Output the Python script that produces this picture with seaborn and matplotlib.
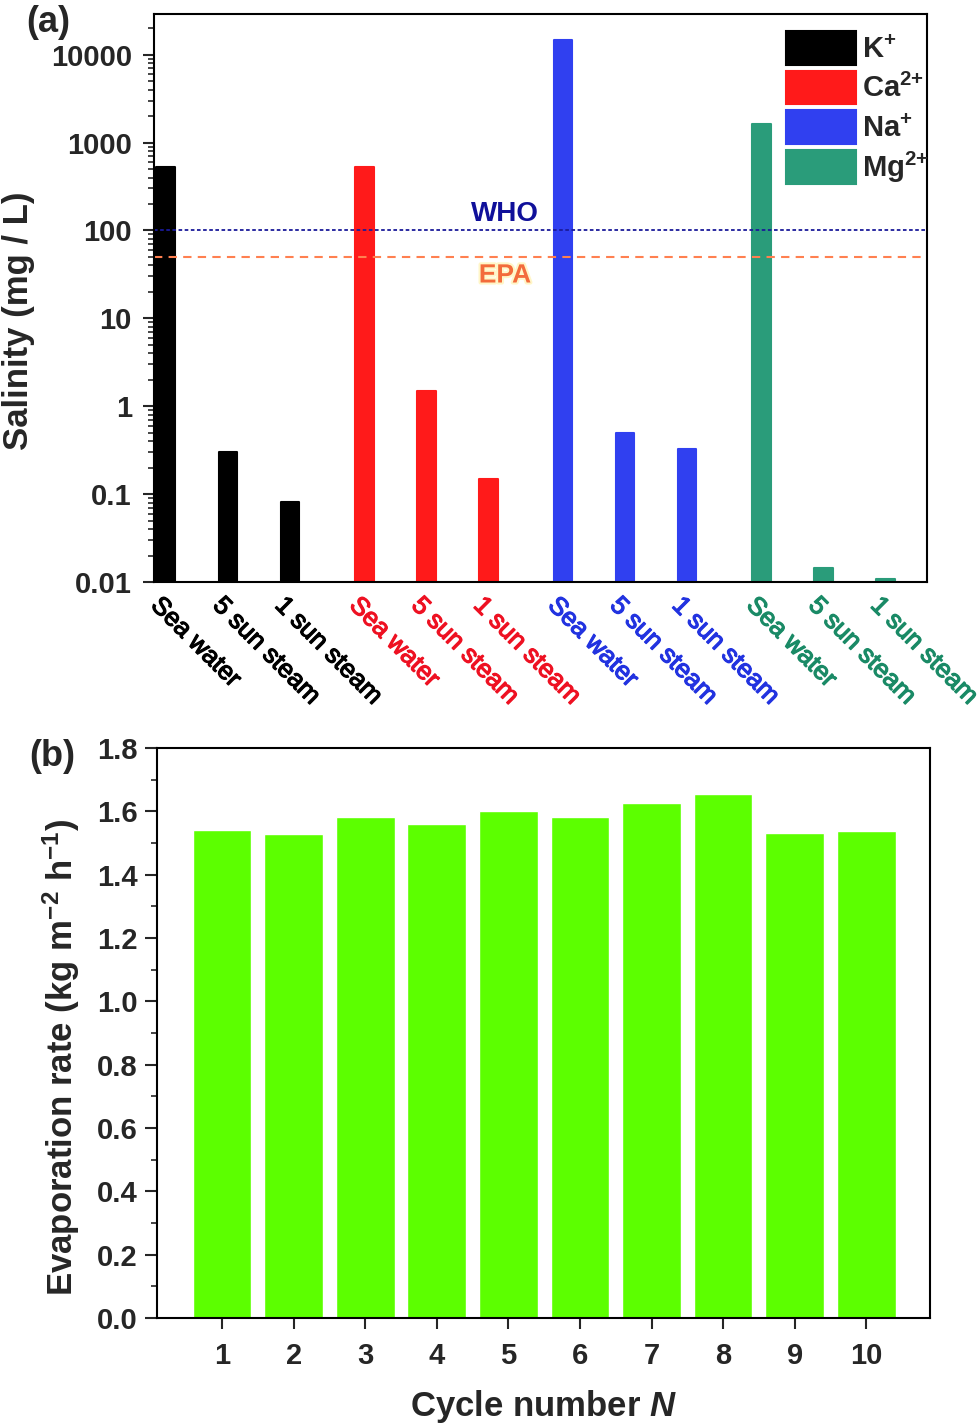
import numpy as np
import pandas as pd
import matplotlib
matplotlib.use("Agg")
import matplotlib.pyplot as plt
import matplotlib.ticker as mticker
import matplotlib.patheffects as pe
from matplotlib.patches import Patch
from matplotlib.transforms import ScaledTranslation, blended_transform_factory
import seaborn as sns

# %%
# data
ions = ["K$^{\\mathbf{+}}$", "Ca$^{\\mathbf{2{+}}}$", "Na$^{\\mathbf{+}}$", "Mg$^{\\mathbf{2{+}}}$"]
conditions = ["Sea water", "5 sun steam", "1 sun steam"]
k_vals = [530, 0.30, 0.081]
ca_vals = [520, 1.48, 0.15]
na_vals = [14800, 0.50, 0.33]
mg_vals = [1640, 0.0144, 0.0108]
who_limit = 100
epa_limit = 50

ion_colors = ["#000000", "#ff1a1a", "#3040f0", "#2a9c7a"]
label_colors = ["#000000", "#ee1122", "#2233e0", "#1a8a66"]

cycles = list(range(1, 11))
evap_rate = [1.542, 1.529, 1.583, 1.561, 1.602, 1.583, 1.625, 1.656, 1.533, 1.538]

# %%
sns.set_theme(style="ticks")
plt.rcParams["font.family"] = ["Liberation Sans", "DejaVu Sans"]
plt.rcParams["font.weight"] = "bold"
plt.rcParams["axes.labelweight"] = "bold"
plt.rcParams["mathtext.fontset"] = "custom"
plt.rcParams["mathtext.rm"] = "Liberation Sans:bold"
plt.rcParams["mathtext.bf"] = "Liberation Sans:bold"
plt.rcParams["mathtext.it"] = "Liberation Sans:italic:bold"
plt.rcParams["mathtext.default"] = "bf"
plt.rcParams["axes.linewidth"] = 1.5
plt.rcParams["axes.edgecolor"] = "black"

# build long table; group gap is layout only
group_gap = 0.2
rows = []
for g, (ion, vals) in enumerate(zip(ions, [k_vals, ca_vals, na_vals, mg_vals])):
    for c, (cond, v) in enumerate(zip(conditions, vals)):
        rows.append({"ion": ion, "cond": cond, "value": v,
                     "pos": g * (len(conditions) + group_gap) + c})
df = pd.DataFrame(rows)

fig = plt.figure(figsize=(9.8, 14.28), dpi=100)
ax1 = fig.add_axes([154 / 980, 1 - 582 / 1428, 773 / 980, 568 / 1428])
ax2 = fig.add_axes([157 / 980, 1 - 1318 / 1428, 773 / 980, 570 / 1428])

# %%
# (a) salinity
sns.barplot(data=df, x="pos", y="value", hue="ion", palette=ion_colors,
            native_scale=True, dodge=False, width=0.3,
            legend=False, ax=ax1, saturation=1)
ax1.set_yscale("log")
for bar in ax1.patches:
    bar.set_edgecolor(bar.get_facecolor())
    bar.set_linewidth(1.5)
    bar.set_joinstyle("round")
ax1.set_ylim(0.01, 29000)
ax1.set_xlim(-0.19, 12.27)
ax1.yaxis.set_major_locator(mticker.LogLocator(base=10, numticks=100))
ax1.yaxis.set_minor_locator(mticker.LogLocator(base=10, subs=np.arange(2, 10), numticks=100))
ax1.yaxis.set_major_formatter(mticker.FuncFormatter(lambda v, p: f"{v:g}"))
ax1.yaxis.set_minor_formatter(mticker.NullFormatter())
ax1.tick_params(axis="y", which="major", length=8, width=1.5, pad=8, labelsize=21)
ax1.tick_params(axis="y", which="minor", length=4.5, width=1.2)
ax1.tick_params(axis="x", length=0, pad=14)

ax1.set_xticks(df["pos"])
ax1.set_xticklabels(df["cond"], rotation=-45, ha="left", va="center",
                    rotation_mode="anchor", fontsize=18.5, fontweight="normal")
offset = ScaledTranslation(-11 / 100, 0, fig.dpi_scale_trans)
for lbl, g in zip(ax1.get_xticklabels(), np.repeat(np.arange(len(ions)), len(conditions))):
    lbl.set_color(label_colors[g])
    lbl.set_transform(lbl.get_transform() + offset)
    lbl.set_path_effects([pe.withStroke(linewidth=0.9, foreground=label_colors[g])])

ax1.axhline(who_limit, color="#1a1a9a", lw=1.3, ls=(0, (2, 1.4)))
ax1.axhline(epa_limit, color="#ff8050", lw=1.5, ls=(0, (4, 3)))
tr = blended_transform_factory(ax1.transAxes, ax1.transData)
ax1.text(0.454, 155, "WHO", transform=tr, ha="center", va="center",
         color="#10109a", fontsize=20, fontweight="bold")
ax1.text(0.454, 30.7, "EPA", transform=tr, ha="center", va="center",
         color="#f36b3b", fontsize=19, fontweight="bold",
         path_effects=[pe.withStroke(linewidth=3, foreground="#fff6c8")])

ax1.set_xlabel("")
ax1.set_ylabel("Salinity (mg / L)", fontsize=25)
ax1.yaxis.set_label_coords(-0.154, 0.46)

handles = [Patch(facecolor=c, edgecolor=c, joinstyle="round", linewidth=1.5) for c in ion_colors]
ax1.legend(handles, ions, loc="upper left", bbox_to_anchor=(0.818, 0.970),
           frameon=False, fontsize=21, handlelength=2.4, handleheight=1.4,
           labelspacing=0.2, handletextpad=0.2, borderpad=0, borderaxespad=0)

# %%
# (b) evaporation rate
sns.barplot(x=cycles, y=evap_rate, color="#5cff00", saturation=1, width=0.82, ax=ax2)
ax2.set_ylim(0, 1.8)
ax2.set_xlim(-0.908, 9.89)
ax2.yaxis.set_major_locator(mticker.MultipleLocator(0.2))
ax2.yaxis.set_minor_locator(mticker.MultipleLocator(0.1))
ax2.yaxis.set_major_formatter(mticker.FormatStrFormatter("%.1f"))
ax2.tick_params(axis="y", which="major", length=9, width=1.5, pad=5, labelsize=21)
ax2.tick_params(axis="y", which="minor", length=4.5, width=1.2)
ax2.tick_params(axis="x", length=8, width=1.5, pad=9, labelsize=21)
ax2.set_ylabel("Evaporation rate (kg m$^{\\mathbf{-2}}$ h$^{\\mathbf{-1}}$)", fontsize=25)
ax2.yaxis.set_label_coords(-0.097, 0.458)
ax2.set_xlabel("Cycle number $\\mathit{N}$", fontsize=25)
ax2.xaxis.set_label_coords(0.5, -0.122)

for ax in (ax1, ax2):
    for s in ax.spines.values():
        s.set_visible(True)
        s.set_linewidth(1.5)

fig.text(48 / 980, 1 - 22 / 1428, "(a)", ha="center", va="center", fontsize=26, fontweight="bold")
fig.text(52 / 980, 1 - 757 / 1428, "(b)", ha="center", va="center", fontsize=26, fontweight="bold")

fig.savefig("out.png", dpi=100)
